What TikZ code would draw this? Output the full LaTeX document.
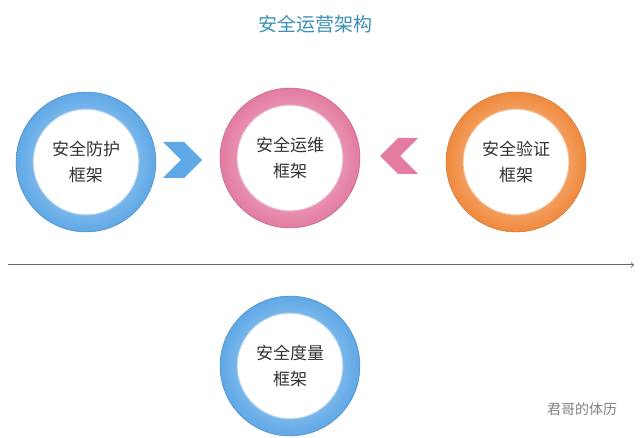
\documentclass[tikz,border=0pt]{standalone}
\usepackage{fontspec}
\setmainfont{Noto Sans CJK SC}
\usetikzlibrary{positioning}
\definecolor{ringblue}{HTML}{5FA8E6}
\definecolor{ringpink}{HTML}{E37BA3}
\definecolor{ringorange}{HTML}{F08A3E}
\definecolor{titleblue}{HTML}{3A8FB7}
\definecolor{textgray}{HTML}{333333}
\tikzset{
  ring/.style={circle,minimum size=140pt,inner color=#1!35,outer color=#1,draw=#1!80!black,line width=0.4pt},
  hole/.style={circle,fill=white,minimum size=106pt,draw=#1!60,line width=1pt,align=center,
    font=\fontsize{17pt}{26pt}\selectfont,text=textgray},
}
\begin{document}
\begin{tikzpicture}[x=1pt,y=-1pt]
    \useasboundingbox (0,0) rectangle (640,438);

    \node[titleblue,font=\fontsize{19pt}{22pt}\selectfont] (title) at (315,24) {安全运营架构};

    \node[ring=ringblue] (protectring) at (86,162) {};
    \node[hole=ringblue] (protect) at (protectring) {安全防护\\框架};
    \node[ring=ringpink] (opsring) at (290,158) {};
    \node[hole=ringpink] (ops) at (opsring) {安全运维\\框架};
    \node[ring=ringorange] (verifyring) at (516,162) {};
    \node[hole=ringorange] (verify) at (verifyring) {安全验证\\框架};
    \node[ring=ringblue] (measurering) at (290,366) {};
    \node[hole=ringblue] (measure) at (measurering) {安全度量\\框架};

    % chevrons
    \fill[ringblue] (163,142) -- (184,142) -- (202,160) -- (184,178) -- (163,178) -- (181,160) -- cycle;
    \fill[ringpink] (418,138) -- (398,138) -- (380,156) -- (398,174) -- (418,174) -- (400,156) -- cycle;

    \coordinate (lineL) at (8,265);
    \coordinate (lineR) at (634,265);
    \draw[->,gray!80!black,line width=1pt] (lineL) -- (lineR);

    \node[gray,font=\fontsize{14pt}{16pt}\selectfont] (mark) at (582,409) {君哥的体历};
\end{tikzpicture}
\end{document}
